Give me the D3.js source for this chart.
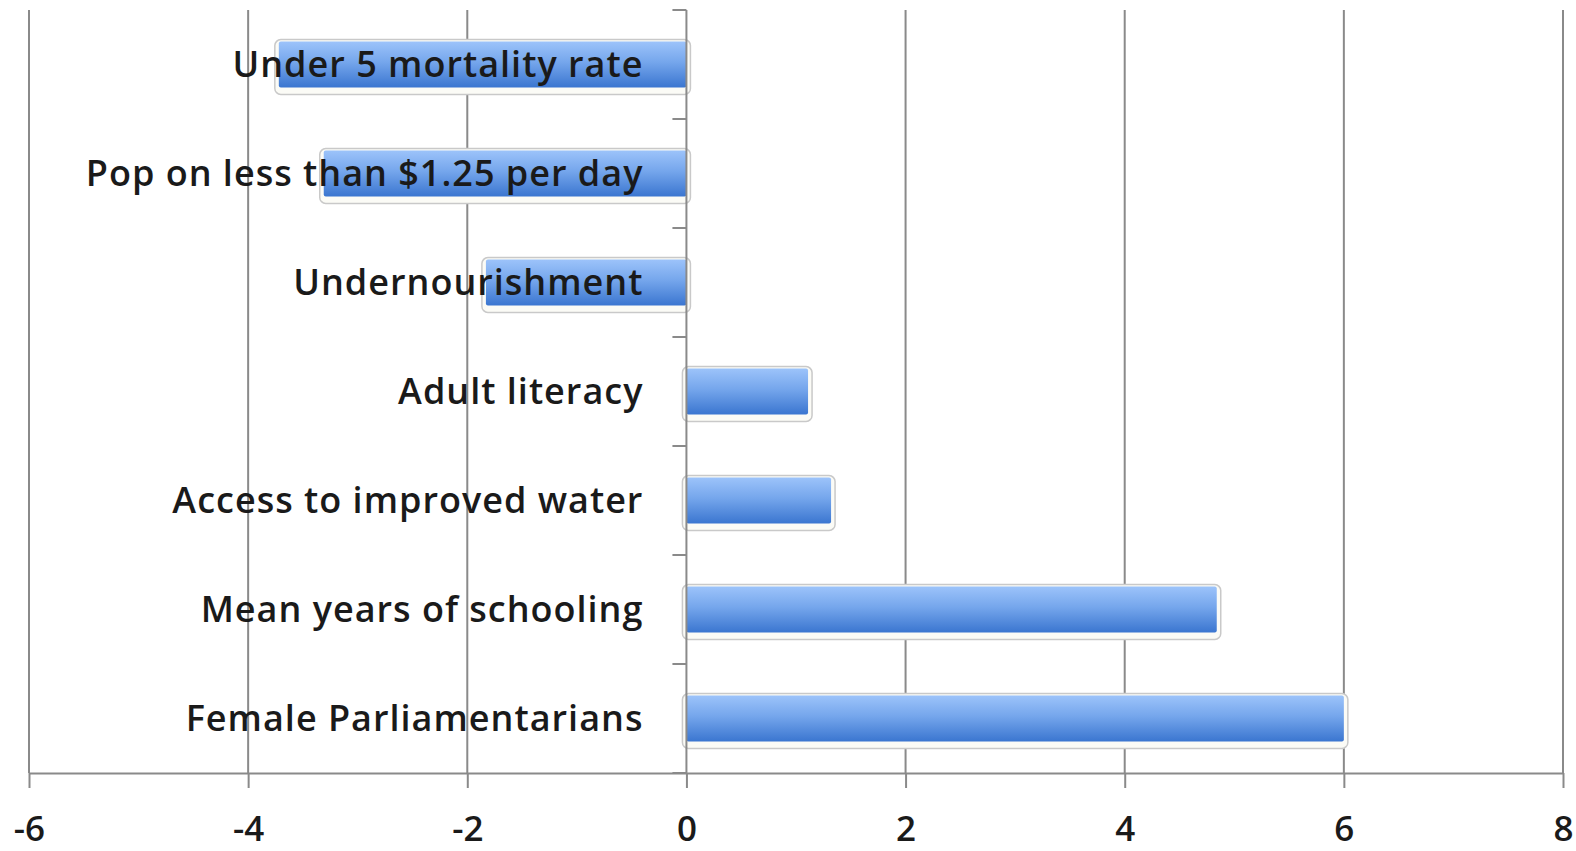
<!DOCTYPE html>
<html>
<head>
<meta charset="utf-8">
<script src="https://cdn.jsdelivr.net/npm/d3@7"></script>
<style>
  html, body { margin: 0; padding: 0; background: #fff; }
  svg { display: block; }
</style>
</head>
<body>
<div id="chart"></div>
<script>
const categories = [
  'Under 5 mortality rate',
  'Pop on less than $1.25 per day',
  'Undernourishment',
  'Adult literacy',
  'Access to improved water',
  'Mean years of schooling',
  'Female Parliamentarians',
];
const values = [-3.72, -3.31, -1.83, 1.11, 1.32, 4.84, 6.0];
const xTicks = [-6, -4, -2, 0, 2, 4, 6, 8];

const width = 1576, height = 851;
const plotLeft = 29, plotRight = 1563, plotTop = 10, plotBottom = 773;
const font = '"Open Sans", Lato, sans-serif';

const svg = d3.select('#chart').append('svg')
  .attr('width', width).attr('height', height);

const x = d3.scaleLinear().domain([-6, 8]).range([plotLeft, plotRight]);
const y = d3.scaleBand().domain(categories).range([plotTop, plotBottom])
  .paddingInner(0.58).paddingOuter(0.29);

const defs = svg.append('defs');
const grad = defs.append('linearGradient').attr('id', 'barGrad')
  .attr('x1', 0).attr('y1', 0).attr('x2', 0).attr('y2', 1);
grad.append('stop').attr('offset', '0%').attr('stop-color', '#9cc3fa');
grad.append('stop').attr('offset', '45%').attr('stop-color', '#75a6ec');
grad.append('stop').attr('offset', '100%').attr('stop-color', '#3b76d0');

// gridlines
svg.append('g').selectAll('line').data(xTicks.filter(d => d !== 0)).join('line')
  .attr('x1', d => x(d)).attr('x2', d => x(d))
  .attr('y1', plotTop).attr('y2', plotBottom)
  .attr('stroke', '#8a8a8a').attr('stroke-width', 2);

// bars
const bars = svg.append('g').selectAll('g').data(categories).join('g');
bars.append('rect')
  .attr('x', (d, i) => Math.min(x(0), x(values[i])) - 4)
  .attr('y', d => y(d) - 2)
  .attr('width', (d, i) => Math.abs(x(values[i]) - x(0)) + 8)
  .attr('height', y.bandwidth() + 9)
  .attr('rx', 6)
  .attr('fill', '#fbfbf6').attr('stroke', '#c9c9c9').attr('stroke-width', 1.5);
bars.append('rect')
  .attr('x', (d, i) => Math.min(x(0), x(values[i])))
  .attr('y', d => y(d))
  .attr('width', (d, i) => Math.abs(x(values[i]) - x(0)))
  .attr('height', y.bandwidth())
  .attr('rx', 2)
  .attr('fill', 'url(#barGrad)');

// zero (category) axis
svg.append('line')
  .attr('x1', x(0)).attr('x2', x(0)).attr('y1', plotTop).attr('y2', plotBottom)
  .attr('stroke', '#8a8a8a').attr('stroke-width', 2);
const bandEdges = categories.map(c => y(c) - y.step() * y.paddingInner() / 2).concat([plotBottom]);
svg.append('g').selectAll('line').data(bandEdges).join('line')
  .attr('x1', x(0) - 14).attr('x2', x(0))
  .attr('y1', d => d).attr('y2', d => d)
  .attr('stroke', '#8a8a8a').attr('stroke-width', 2);

// category labels
svg.append('g').selectAll('text').data(categories).join('text')
  .attr('x', x(0) - 43)
  .attr('y', d => y(d) + y.bandwidth() / 2)
  .attr('dy', '0.36em')
  .attr('text-anchor', 'end')
  .attr('font-family', font).attr('font-size', 36).attr('font-weight', 600)
  .attr('letter-spacing', 1)
  .attr('fill', '#1a1a1a')
  .text(d => d);

// x axis
const xAxis = svg.append('g')
  .attr('transform', `translate(0,${plotBottom})`)
  .call(d3.axisBottom(x).tickValues(xTicks).tickFormat(d => String(d))
    .tickSize(15).tickPadding(28).tickSizeOuter(0));
xAxis.select('.domain').attr('stroke', '#8a8a8a').attr('stroke-width', 2);
xAxis.selectAll('.tick line').attr('stroke', '#8a8a8a').attr('stroke-width', 2);
xAxis.selectAll('.tick text')
  .attr('font-family', font).attr('font-size', 35).attr('font-weight', 600).attr('fill', '#1a1a1a');
</script>
</body>
</html>
